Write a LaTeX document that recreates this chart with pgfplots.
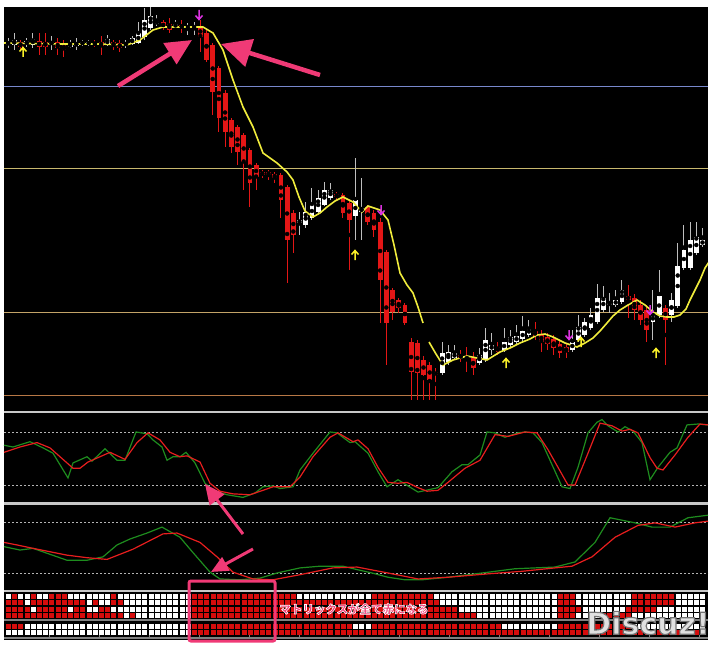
\documentclass[border=0pt]{standalone}
\usepackage{pgfplots}
\pgfplotsset{compat=1.18}
\usepackage{pgfplotstable}
\usetikzlibrary{arrows.meta}
\usepackage{fontspec}
\newfontfamily\jpfont{Noto Sans CJK JP}
\newfontfamily\wmfont{DejaVu Sans}

\definecolor{cred}{RGB}{228,22,22}
\definecolor{wick}{RGB}{190,190,190}
\definecolor{ma}{RGB}{240,236,60}
\definecolor{lvlblue}{RGB}{120,136,204}
\definecolor{lvlkhaki}{RGB}{200,184,110}
\definecolor{lvltan}{RGB}{196,164,104}
\definecolor{lvlbrown}{RGB}{184,120,70}
\definecolor{stgreen}{RGB}{30,140,30}
\definecolor{stred}{RGB}{232,30,30}
\definecolor{sepc}{RGB}{200,200,200}
\definecolor{gridc}{RGB}{180,180,180}
\definecolor{mred}{RGB}{214,12,12}
\definecolor{pinkA}{RGB}{240,58,118}
\definecolor{arrY}{RGB}{250,240,40}
\definecolor{arrM}{RGB}{220,50,225}

% text with an outline of another colour (fill + stroke render mode)
\newcommand\outlined[2]{\special{pdf:code #1 2 Tr}#2\special{pdf:code 0 Tr}}

% up / down arrow marks (signals)
\pgfdeclareplotmark{uarr}{%
  \pgfsetlinewidth{1.5pt}%
  \pgfpathmoveto{\pgfqpoint{0pt}{-5pt}}\pgfpathlineto{\pgfqpoint{0pt}{4pt}}%
  \pgfpathmoveto{\pgfqpoint{-3.5pt}{0.5pt}}\pgfpathlineto{\pgfqpoint{0pt}{4.5pt}}\pgfpathlineto{\pgfqpoint{3.5pt}{0.5pt}}%
  \pgfusepathqstroke}
\pgfdeclareplotmark{darr}{%
  \pgfsetlinewidth{1.5pt}%
  \pgfpathmoveto{\pgfqpoint{0pt}{5pt}}\pgfpathlineto{\pgfqpoint{0pt}{-4pt}}%
  \pgfpathmoveto{\pgfqpoint{-3.5pt}{-0.5pt}}\pgfpathlineto{\pgfqpoint{0pt}{-4.5pt}}\pgfpathlineto{\pgfqpoint{3.5pt}{-0.5pt}}%
  \pgfusepathqstroke}

% candles: x, high, low, body top, body bottom (screen rows, top = 7)
\pgfplotstableread{
x h l t b
8.1 38 48 42 45
14.3 33 50 40 45
26.7 38 47 41 44
32.9 33 48 39 45
51.5 36 50 42 44
70.1 40 48 44 47
76.3 38 50 43 46
82.5 40 46 42 44
88.7 40 46 42 44
107.3 35 46 39 45
125.9 40 48 43 45
132.1 36 45 38 44
138.3 22 44 33 43
144.5 8 40 20 37
150.7 7 30 16 28
156.9 15 26 21 24
175.5 20 28 24 27
187.9 23 35 26 28
194.1 22 35 26 28
299.5 212 235 220 223
305.7 202 228 212 225
311.9 188 220 204 218
318.1 190 213 198 212
324.3 182 206 190 205
330.5 183 200 190 198
355.3 158 240 200 216
361.5 178 240 208 212
442.1 342 375 353 373
448.3 345 365 352 362
454.5 345 360 353 358
479.3 348 365 355 363
485.5 328 362 340 360
491.7 333 355 345 350
504.1 328 352 342 350
510.3 330 347 337 345
516.5 325 344 336 342
522.7 316 341 331 339
528.9 320 337 328 335
572.3 330 352 342 350
578.5 315 342 327 340
584.7 318 337 322 335
590.9 308 330 315 328
597.1 284 324 298 322
603.3 286 312 298 310
609.5 293 313 303 305
615.7 290 307 300 305
621.9 280 304 290 302
652.9 290 340 315 322
659.1 270 318 296 315
671.5 293 322 300 315
677.7 243 308 266 306
683.9 225 270 250 268
690.1 222 270 240 268
696.3 222 255 237 253
702.5 228 247 240 245
}\upc

\pgfplotstableread{
x h l t b
20.5 40 50 42 47
39.1 33 55 41 47
45.3 33 55 42 47
57.7 38 55 42 48
63.9 40 57 44 50
94.9 40 47 43 45
101.1 36 55 42 46
113.5 40 50 42 46
119.7 40 52 43 48
163.1 20 30 22 28
169.3 18 33 24 30
181.7 20 33 25 28
200.3 20 52 26 37
206.5 30 62 33 60
212.7 43 115 45 92
218.9 66 132 68 118
225.1 90 147 93 132
231.3 118 153 120 147
237.5 125 165 127 152
243.7 133 190 135 162
249.9 148 207 150 183
256.1 163 190 165 177
262.3 170 178 172 175
268.5 170 180 172 175
274.7 172 183 174 178
280.9 173 218 175 200
287.1 185 283 187 240
293.3 210 253 213 235
336.7 192 200 194 197
342.9 193 218 195 213
349.1 200 270 203 220
367.7 205 225 207 222
373.9 210 237 213 230
380.1 218 323 222 280
386.3 250 365 252 323
392.5 288 320 290 312
398.7 298 313 300 308
404.9 303 325 305 323
411.1 338 400 342 372
417.3 340 400 343 373
423.5 356 400 360 375
429.7 362 400 365 380
435.9 368 400 372 375
460.7 350 362 355 358
466.9 347 372 356 360
473.1 352 375 358 368
497.9 342 355 347 352
535.1 322 340 331 336
541.3 330 352 334 342
547.5 333 350 337 344
553.7 335 355 339 348
559.9 340 358 344 353
566.1 343 358 347 352
628.1 285 318 296 300
634.3 294 320 298 310
640.5 300 325 305 320
646.7 305 342 310 330
665.3 305 365 308 320
}\downc

% signal matrix: 1 = red cell, 0 = white cell
\pgfplotstableread{
x r1 r2 r3 r4 r5 r6
8.1 0 1 1 1 1 0
14.3 1 1 1 1 1 0
20.5 0 1 1 1 1 0
26.7 0 0 1 1 0 0
32.9 1 1 0 1 0 0
39.1 0 1 1 1 0 0
45.3 0 1 1 1 0 0
51.5 1 1 1 1 0 0
57.7 1 1 1 1 0 0
63.9 1 1 1 1 0 0
70.1 0 1 0 1 0 0
76.3 0 1 1 1 0 0
82.5 0 1 1 1 0 0
88.7 0 0 0 1 0 0
94.9 0 1 0 1 0 0
101.1 0 0 1 1 0 0
107.3 0 0 1 1 0 0
113.5 1 1 0 1 0 0
119.7 0 1 0 1 0 0
125.9 0 0 0 0 0 0
132.1 0 0 0 1 0 0
138.3 0 0 0 0 0 0
144.5 0 0 0 0 0 0
150.7 0 0 0 0 0 0
156.9 0 0 0 0 0 0
163.1 0 0 0 0 0 0
169.3 0 0 0 0 0 0
175.5 0 0 0 0 0 0
181.7 0 0 0 0 0 0
187.9 0 0 0 0 0 0
194.1 1 1 1 1 1 1
200.3 1 1 1 1 1 1
206.5 1 1 1 1 1 1
212.7 1 1 1 1 1 1
218.9 1 1 1 1 1 1
225.1 1 1 1 1 1 1
231.3 1 1 1 1 1 1
237.5 1 1 1 1 1 1
243.7 1 1 1 1 1 1
249.9 1 1 1 1 1 1
256.1 1 1 1 1 1 1
262.3 1 1 1 1 1 1
268.5 1 1 1 1 1 1
274.7 1 1 1 1 1 1
280.9 1 1 1 1 1 1
287.1 1 1 1 1 1 1
293.3 1 1 1 1 1 1
299.5 0 1 1 1 1 1
305.7 0 1 1 1 1 1
311.9 0 1 1 1 1 1
318.1 0 1 1 1 1 1
324.3 0 1 1 1 1 1
330.5 0 1 1 1 1 1
336.7 0 1 1 1 1 1
342.9 0 1 1 1 1 1
349.1 0 1 1 1 1 1
355.3 0 1 1 1 0 1
361.5 0 1 1 1 0 1
367.7 0 1 1 1 0 1
373.9 1 1 1 1 1 1
380.1 1 1 1 1 1 1
386.3 1 1 1 1 1 1
392.5 1 1 1 1 1 1
398.7 1 1 1 1 1 1
404.9 1 1 1 1 1 1
411.1 1 1 1 1 1 1
417.3 1 1 1 1 1 1
423.5 1 1 1 1 1 1
429.7 1 1 1 1 1 1
435.9 0 1 1 1 1 1
442.1 0 0 1 1 1 1
448.3 0 0 1 1 1 1
454.5 0 0 1 1 1 1
460.7 0 0 0 1 1 1
466.9 0 0 0 1 1 1
473.1 0 0 0 1 1 1
479.3 0 0 0 0 1 1
485.5 0 0 0 0 1 1
491.7 0 0 0 0 1 1
497.9 0 0 0 0 1 1
504.1 0 0 0 0 0 1
510.3 0 0 0 0 0 1
516.5 0 0 0 0 0 1
522.7 0 0 0 0 0 1
528.9 0 0 0 0 0 1
535.1 0 0 0 0 0 1
541.3 0 0 0 0 0 1
547.5 0 0 0 0 0 1
553.7 0 0 0 0 0 1
559.9 1 1 1 1 1 1
566.1 1 1 1 1 1 1
572.3 1 1 1 1 1 1
578.5 0 0 1 0 1 1
584.7 0 0 0 0 1 1
590.9 0 0 0 0 1 1
597.1 0 0 0 0 1 1
603.3 0 0 0 1 1 1
609.5 0 0 0 1 1 1
615.7 0 0 0 1 1 1
621.9 0 0 0 1 1 1
628.1 0 0 1 1 1 1
634.3 1 1 1 0 0 1
640.5 1 1 1 0 0 1
646.7 1 1 1 0 0 1
652.9 1 1 1 0 0 1
659.1 1 1 0 0 0 1
665.3 1 1 0 0 0 1
671.5 1 1 0 0 0 1
677.7 0 0 0 0 0 1
683.9 0 0 0 0 0 1
690.1 0 0 0 0 0 1
696.3 0 0 0 0 0 1
702.5 0 0 0 0 0 1
}\mtx

\pgfplotsset{
  panel/.style={scale only axis, width=704pt, xmin=4, xmax=708, hide axis, clip=true},
  candle/.style={only marks, mark=none, forget plot,
    error bars/.cd, y dir=both, y explicit, error mark=none},
  mrow/.style={only marks, mark=square*, mark size=2pt,
    scatter, point meta=explicit symbolic,
    scatter/classes={0={white}, 1={mred}}},
}

\begin{document}
\begin{tikzpicture}
\fill[white] (0,0) rectangle (715pt,646pt);
\useasboundingbox (0,0) rectangle (715pt,646pt);
\fill[black] (4pt,6pt) rectangle (708pt,639pt);

% ---- price panel ----
\begin{axis}[panel, at={(4pt,236pt)}, anchor=south west, height=403pt,
  ymin=7, ymax=410, y dir=reverse]
\addplot[lvlblue, line width=0.8pt] coordinates {(4,86)(708,86)};
\addplot[lvlkhaki, line width=0.8pt] coordinates {(4,168)(708,168)};
\addplot[lvltan, line width=0.8pt] coordinates {(4,312)(708,312)};
\addplot[lvlbrown, line width=0.8pt] coordinates {(4,395)(708,395)};

\addplot[candle, error bar style={line width=1pt, wick}]
  table[x=x, y expr={(\thisrow{h}+\thisrow{l})/2}, y error expr={(\thisrow{l}-\thisrow{h})/2}] {\upc};
\addplot[candle, error bar style={line width=1pt, cred}]
  table[x=x, y expr={(\thisrow{h}+\thisrow{l})/2}, y error expr={(\thisrow{l}-\thisrow{h})/2}] {\downc};
\addplot[candle, error bar style={line width=4.8pt, white}]
  table[x=x, y expr={(\thisrow{t}+\thisrow{b})/2}, y error expr={(\thisrow{b}-\thisrow{t})/2}] {\upc};
\addplot[candle, error bar style={line width=4.8pt, cred}]
  table[x=x, y expr={(\thisrow{t}+\thisrow{b})/2}, y error expr={(\thisrow{b}-\thisrow{t})/2}] {\downc};

\addplot[ma, line width=1.6pt] coordinates {
 (4,43)(60,44)(100,44)(127,45)(140,40)(153,30)(163,27)(203,27)(213,33)(223,50)
 (233,80)(243,107)(253,127)(263,153)(277,163)(287,172)(293,180)(299,197)(305,211)
 (313,217)(320,213)(327,207)(335,201)(343,197)(353,202)(362,212)(368,206)(380,210)
 (388,220)(394,245)(400,273)(407,285)(413,293)(418,307)(423,323)};
\addplot[ma, line width=1.6pt] coordinates {
 (429,342)(436,354)(443,365)(453,360)(467,356)(477,358)(487,360)(500,352)(510,348)
 (520,343)(530,339)(537,335)(545,334)(553,337)(565,343)(577,347)(585,343)(593,338)
 (600,331)(607,323)(613,316)(620,310)(628,305)(637,300)(645,305)(653,312)(660,316)
 (667,317)(674,317)(680,315)(686,309)(690,300)(695,290)(700,280)(705,268)(709,262)};

\addplot[only marks, mark=uarr, arrY] coordinates {(23,52)(355,255)(506,363)(581,342)(656,353)};
\addplot[only marks, mark=darr, arrM] coordinates {(199,15)(381,210)(569,335)(650,310)};
\end{axis}

% ---- fast stochastic ----
\begin{axis}[panel, at={(4pt,143.3pt)}, anchor=south west, height=88.4pt,
  ymin=0, ymax=100]
\addplot[gridc, line width=0.8pt, dash pattern=on 2pt off 2pt] coordinates {(4,80)(708,80)};
\addplot[gridc, line width=0.8pt, dash pattern=on 2pt off 2pt] coordinates {(4,20)(708,20)};
\addplot[stgreen, line width=1.2pt] coordinates {
 (4,65)(13,63)(30,69)(43,62)(53,56)(68,28)(73,45)(87,52)(92,47)(105,61)(117,48)
 (125,48)(136,80)(147,78)(153,71)(162,63)(167,48)(173,52)(180,52)(186,57)(195,45)
 (205,22)(213,14)(227,9)(243,6)(255,11)(263,18)(273,19)(280,16)(293,18)(300,37)
 (313,56)(330,80)(337,79)(350,68)(355,69)(368,56)(378,35)(387,18)(398,26)(408,19)
 (418,12)(438,17)(452,35)(462,43)(468,43)(480,54)(487,80)(495,79)(505,74)(518,79)
 (525,80)(533,79)(542,68)(562,18)(570,16)(578,40)(588,79)(597,91)(602,94)(608,87)
 (618,80)(625,86)(633,81)(642,68)(650,26)(658,40)(670,57)(677,62)(687,88)(698,89)(708,88)};
\addplot[stred, line width=1.2pt] coordinates {
 (4,57)(20,63)(37,68)(50,62)(60,52)(73,39)(80,39)(88,46)(100,52)(110,57)(125,49)
 (137,68)(148,79)(160,71)(170,57)(180,52)(187,53)(200,46)(210,22)(220,13)(233,10)
 (250,9)(263,14)(273,18)(290,18)(300,29)(313,52)(330,74)(338,79)(353,69)(358,71)
 (368,61)(378,40)(388,23)(398,22)(407,23)(418,17)(427,13)(438,14)(448,23)(465,39)
 (480,48)(495,77)(508,75)(525,80)(537,79)(548,60)(568,20)(575,20)(588,56)(600,90)
 (612,87)(622,81)(630,83)(638,79)(650,51)(657,39)(663,37)(675,54)(688,74)(700,89)(708,88)};
\end{axis}

% ---- slow stochastic ----
\begin{axis}[panel, at={(4pt,56pt)}, anchor=south west, height=85pt,
  ymin=0, ymax=100]
\addplot[gridc, line width=0.8pt, dash pattern=on 2pt off 2pt] coordinates {(4,80)(708,80)};
\addplot[gridc, line width=0.8pt, dash pattern=on 2pt off 2pt] coordinates {(4,20)(708,20)};
\addplot[stgreen, line width=1.2pt] coordinates {
 (4,51)(20,47)(33,49)(50,42)(67,35)(87,35)(103,39)(117,53)(130,60)(147,67)(162,74)
 (180,62)(193,44)(210,21)(220,13)(240,12)(260,14)(277,20)(300,26)(320,28)(343,28)
 (357,24)(372,20)(388,15)(405,12)(422,12)(448,15)(482,20)(515,25)(555,27)(575,33)
 (595,56)(610,85)(635,79)(652,74)(670,74)(688,85)(708,88)};
\addplot[stred, line width=1.2pt] coordinates {
 (4,56)(17,53)(33,49)(67,41)(87,38)(107,36)(133,48)(163,66)(177,67)(200,56)(217,39)
 (233,21)(253,13)(273,12)(300,18)(333,26)(357,27)(388,20)(418,13)(448,15)(488,19)
 (522,22)(555,26)(572,28)(592,39)(615,62)(638,76)(655,79)(675,74)(695,79)(708,81)};
\end{axis}

% ---- signal matrix ----
\begin{axis}[panel, at={(4pt,7pt)}, anchor=south west, height=48pt,
  ymin=591, ymax=639, y dir=reverse]
\addplot[mrow] table[x=x, y expr=595.8, meta=r1] {\mtx};
\addplot[mrow] table[x=x, y expr=602.4, meta=r2] {\mtx};
\addplot[mrow] table[x=x, y expr=609.0, meta=r3] {\mtx};
\addplot[mrow] table[x=x, y expr=615.2, meta=r4] {\mtx};
\addplot[mrow] table[x=x, y expr=625.8, meta=r5] {\mtx};
\addplot[mrow] table[x=x, y expr=632.4, meta=r6] {\mtx};
\end{axis}

% panel separators, time ticks
\draw[sepc, line width=2.5pt] (4pt,234pt) -- (708pt,234pt);
\draw[sepc, line width=2.5pt] (4pt,142.5pt) -- (708pt,142.5pt);
\draw[sepc, line width=2pt] (4pt,55pt) -- (708pt,55pt);
\draw[gray, line width=1.5pt] (4pt,26pt) -- (708pt,26pt);
\draw[gray, line width=1.5pt] (4pt,8pt) -- (708pt,8pt);
\foreach \tx in {49,99,...,699} \draw[gray, line width=1pt] (\tx pt,8pt) -- (\tx pt,11pt);

% annotations (screen coordinates)
\begin{scope}[x=1pt, y=-1pt, yshift=646pt]
\draw[pinkA, line width=4.5pt, -{Triangle[width=24pt,length=26pt]}] (118,86) -- (192,40);
\draw[pinkA, line width=4.5pt, -{Triangle[width=28pt,length=30pt]}] (320,75) -- (221,44);
\draw[pinkA, line width=3pt, -{Triangle[width=18pt,length=20pt]}] (243,534) -- (205,484);
\draw[pinkA, line width=3pt, -{Triangle[width=15pt,length=17pt]}] (253,549) -- (211,572);
\draw[pinkA, line width=3pt, rounded corners=2pt] (189,581) rectangle (275,641);
\node[pinkA, font=\jpfont\bfseries\fontsize{11.5}{12}\selectfont] at (354,609)
  {\outlined{1 1 1 RG 0.6 w}{マトリックスが全て赤になる}};
\node[black!12, font=\wmfont\bfseries\fontsize{30}{30}\selectfont] at (648,623)
  {\outlined{0.45 0.45 0.45 RG 1.2 w}{Discuz!}};
\end{scope}
\end{tikzpicture}
\end{document}
